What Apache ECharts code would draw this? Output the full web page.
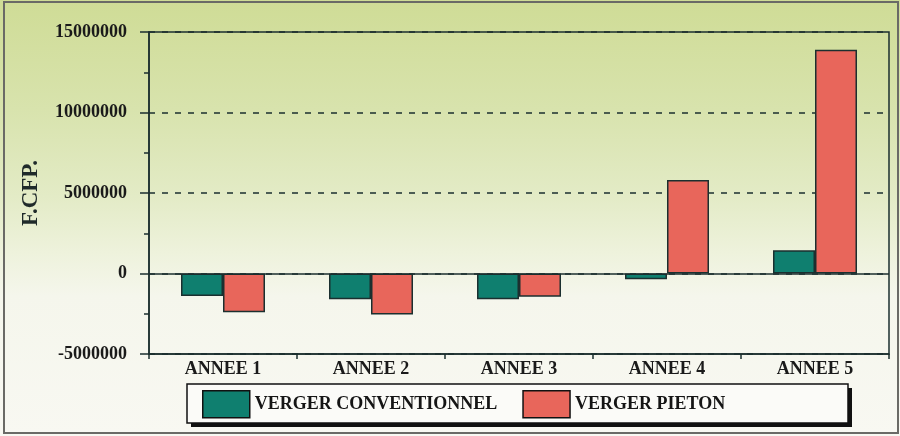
<!DOCTYPE html>
<html>
<head>
<meta charset="utf-8">
<script src="https://cdn.jsdelivr.net/npm/echarts@6/dist/echarts.min.js"></script>
<style>
  html, body { margin: 0; padding: 0; }
  body {
    width: 900px; height: 436px; position: relative; overflow: hidden;
    background: linear-gradient(to bottom, #cfdc96 0%, #d8e3ad 25%, #e3ebc6 45%, #eef2dc 58%, #f5f6ec 68%, #f8f8f2 100%);
  }
  #chart { position: absolute; left: 0; top: 0; width: 900px; height: 436px; }
  #frame {
    position: absolute; left: 3px; top: 1px; width: 892px; height: 429px;
    border: 2px solid #6a6a66; pointer-events: none;
  }
</style>
</head>
<body>
<div id="chart"></div>
<div id="frame"></div>
<script>
  const categories = ['ANNEE 1', 'ANNEE 2', 'ANNEE 3', 'ANNEE 4', 'ANNEE 5'];
  const vergerConventionnel = [-1400000, -1600000, -1600000, -350000, 1450000];
  const vergerPieton = [-2400000, -2550000, -1450000, 5800000, 13900000];

  const font = '"Liberation Serif", "DejaVu Serif", serif';
  const ink = '#1b2f2f';

  const chart = echarts.init(document.getElementById('chart'));

  chart.setOption({
    animation: false,
    textStyle: { fontFamily: font },
    grid: {
      left: 149,
      right: 11,
      top: 32,
      bottom: 82,
      show: true,
      borderColor: ink,
      borderWidth: 1.5,
      backgroundColor: 'transparent'
    },
    // legend frame: hard drop shadow + white box
    graphic: [
      {
        type: 'rect',
        z: 2,
        silent: true,
        shape: { x: 191, y: 388, width: 661, height: 39 },
        style: { fill: '#111' }
      },
      {
        type: 'rect',
        z: 3,
        silent: true,
        shape: { x: 187, y: 384, width: 661, height: 39 },
        style: { fill: '#fbfbf8', stroke: '#111', lineWidth: 1.5 }
      }
    ],
    legend: {
      left: 187,
      top: 384,
      z: 5,
      itemWidth: 47,
      itemHeight: 27,
      itemGap: 25,
      padding: [6, 18, 6, 15],
      icon: 'rect',
      itemStyle: { borderColor: '#111', borderWidth: 1.5 },
      textStyle: {
        fontFamily: font,
        fontWeight: 'bold',
        fontSize: 18,
        color: '#151515'
      },
      data: ['VERGER CONVENTIONNEL', 'VERGER PIETON']
    },
    xAxis: {
      type: 'category',
      data: categories,
      axisLine: { onZero: false, lineStyle: { color: ink, width: 1.5 } },
      axisTick: { show: true, length: 5, lineStyle: { color: ink, width: 1.5 } },
      axisLabel: {
        fontFamily: font,
        fontWeight: 'bold',
        fontSize: 18,
        color: '#1a1a1a',
        margin: 6
      },
      splitLine: { show: false }
    },
    yAxis: {
      type: 'value',
      min: -5000000,
      max: 15000000,
      interval: 5000000,
      name: 'F.CFP.',
      nameLocation: 'middle',
      nameGap: 106,
      nameRotate: 90,
      nameTextStyle: {
        fontFamily: font,
        fontWeight: 'bold',
        fontSize: 23,
        color: '#1f2a2a'
      },
      axisLine: { show: true, lineStyle: { color: ink, width: 1.5 } },
      axisTick: { show: true, length: 9, lineStyle: { color: ink, width: 1.5 } },
      minorTick: { show: true, splitNumber: 2, length: 5, lineStyle: { color: ink, width: 1.5 } },
      axisLabel: {
        fontFamily: font,
        fontWeight: 'bold',
        fontSize: 18,
        color: '#1a1a1a',
        margin: 22,
        formatter: (value) => String(value)
      },
      splitLine: {
        show: true,
        lineStyle: { color: ink, width: 1.5, type: [6, 7] }
      }
    },
    series: [
      {
        name: 'VERGER CONVENTIONNEL',
        type: 'bar',
        data: vergerConventionnel,
        barWidth: 42,
        barGap: '0%',
        itemStyle: { color: '#0f7f6f', borderColor: ink, borderWidth: 1.5 },
        markLine: {
          silent: true,
          symbol: 'none',
          label: { show: false },
          lineStyle: { color: ink, width: 1.5, type: 'solid' },
          data: [{ yAxis: 0 }]
        }
      },
      {
        name: 'VERGER PIETON',
        type: 'bar',
        data: vergerPieton,
        barWidth: 42,
        barGap: '0%',
        itemStyle: { color: '#e8665b', borderColor: ink, borderWidth: 1.5 }
      }
    ]
  });
</script>
</body>
</html>
